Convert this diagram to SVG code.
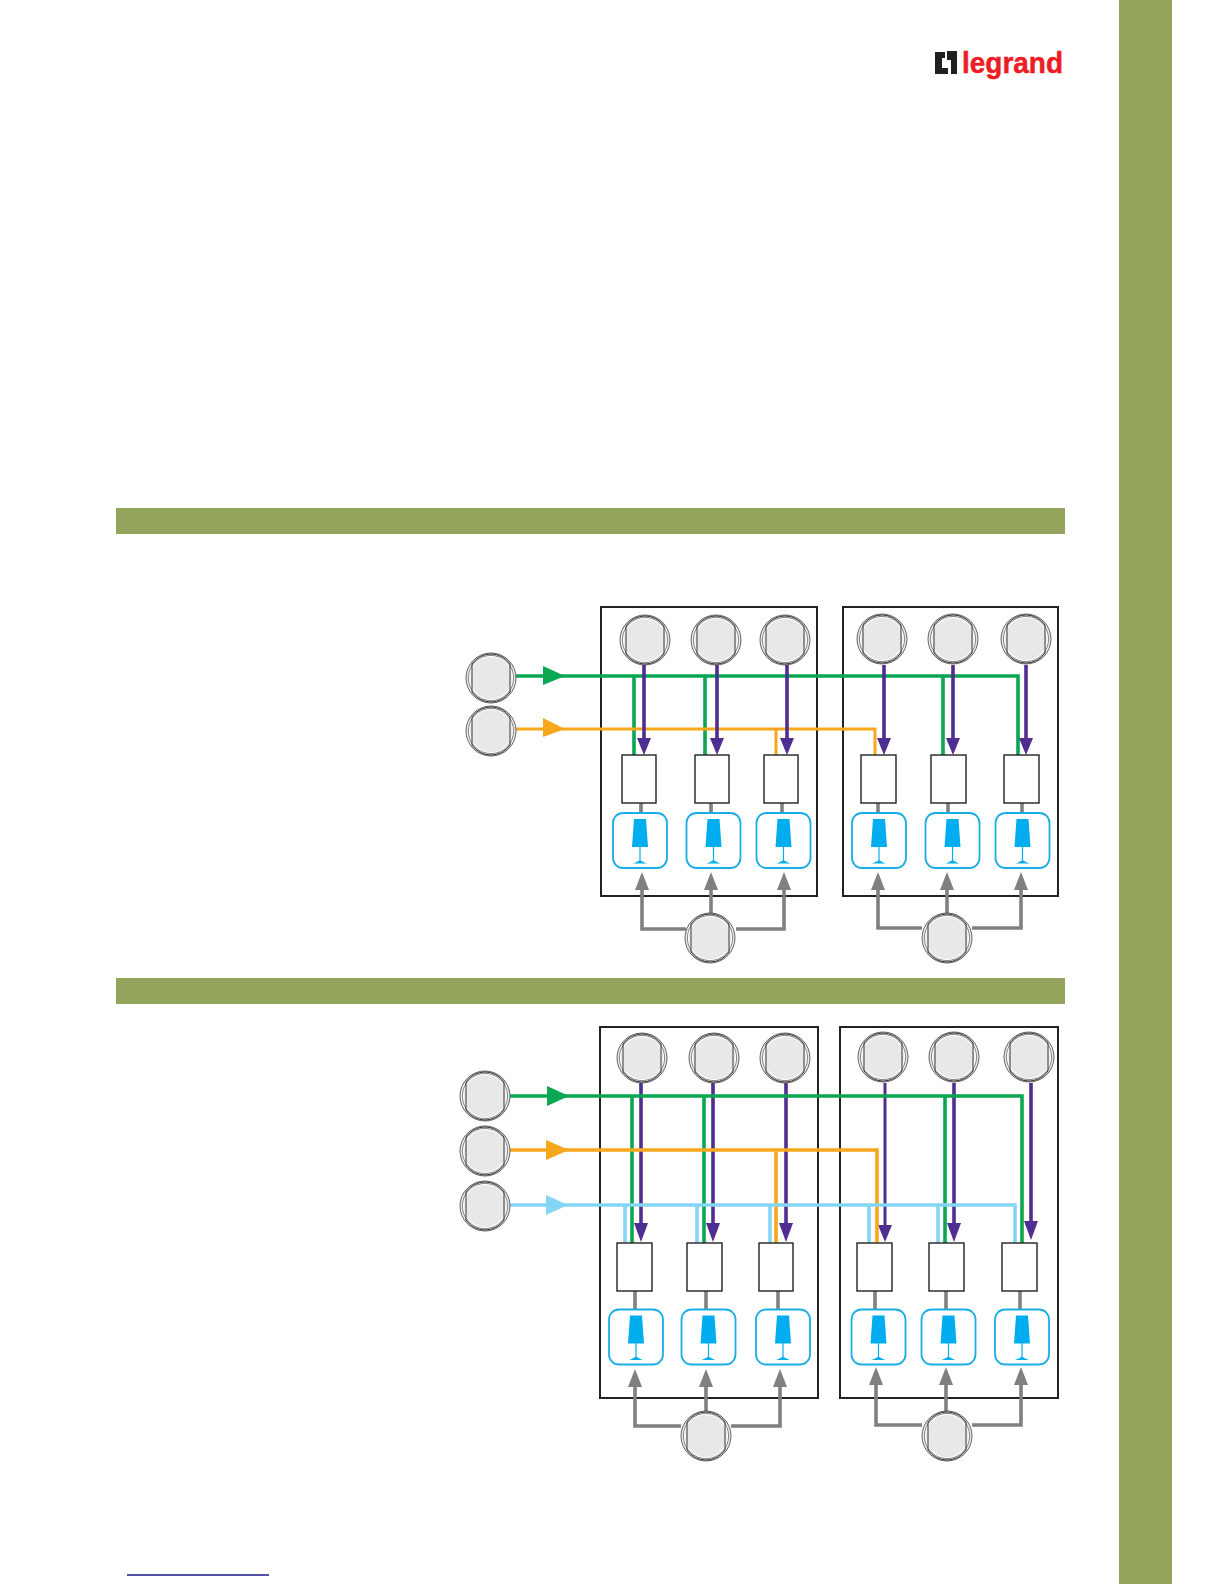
<svg xmlns="http://www.w3.org/2000/svg" xmlns:xlink="http://www.w3.org/1999/xlink" width="1224" height="1584" viewBox="0 0 1224 1584">
<style>
.band{fill:#93a45c}
.panel{fill:none;stroke:#222;stroke-width:2}
.box{fill:#fff;stroke:#222;stroke-width:1.4}
.lampbox{fill:#fff;stroke:#1cade4;stroke-width:1.8}
.g{fill:none;stroke:#0aa651;stroke-width:3.6}
.o{fill:none;stroke:#f7a71b;stroke-width:3.6}
.b{fill:none;stroke:#85d5f5;stroke-width:3.6}
.p{fill:none;stroke:#4f2d91;stroke-width:3.6}
.y{fill:none;stroke:#808080;stroke-width:3.6}
.ah{stroke:none}
</style>
<defs>
<g id="knob">
<circle r="25" fill="#e8e8e8" stroke="#555" stroke-width="0.9"/>
<circle r="22.6" fill="#fff" stroke="#555" stroke-width="0.7"/>
<circle r="21" fill="#e8e8e8" stroke="none"/>
<path d="M-19,-14V14A23,23 0 0 0 19,14V-14A23,23 0 0 0 -19,-14Z" fill="none" stroke="#222" stroke-width="0.9"/>
</g>
<g id="lamp">
<rect x="-27" y="-27.5" width="54" height="55" rx="10" class="lampbox"/>
<path d="M-6,-21.5H6L8,6.5H-8Z" fill="#00aeef"/>
<path d="M-0.6,6V21H0.6V6Z" fill="#00aeef"/>
<path d="M-7,23C-3,22 -2,20 0,20C2,20 3,22 7,23Z" fill="#00aeef"/>
</g>
<marker id="mg" viewBox="0 0 22 20" refX="0" refY="10" markerWidth="22" markerHeight="20" markerUnits="userSpaceOnUse" orient="auto"><path d="M0,0L22,10L0,20Z" fill="#0aa651"/></marker>
<marker id="mo" viewBox="0 0 22 20" refX="0" refY="10" markerWidth="22" markerHeight="20" markerUnits="userSpaceOnUse" orient="auto"><path d="M0,0L22,10L0,20Z" fill="#f7a71b"/></marker>
</defs>

<rect class="band" x="1119" y="0" width="53" height="1584"/>
<rect class="band" x="116" y="508" width="949" height="26"/>
<rect class="band" x="116" y="978" width="949" height="26"/>
<line x1="127" y1="1575" x2="269" y2="1575" stroke="#1a1a8c" stroke-width="1.3"/>

<g id="logo">
<path d="M935,52H945V58H942V68H948V74H935Z M947,51H957V74H951V60H947Z" fill="#231f20"/>
<text x="962" y="73" font-family="'Liberation Sans',Arial,sans-serif" font-weight="700" font-size="30" fill="#ed1c24" stroke="#ed1c24" stroke-width="0.5" textLength="101" lengthAdjust="spacingAndGlyphs">legrand</text>
</g>

<g id="panels">
<rect class="panel" x="601" y="607" width="216" height="289"/>
<rect class="panel" x="843" y="607" width="215" height="289"/>
<rect class="panel" x="600" y="1027" width="218" height="371"/>
<rect class="panel" x="840" y="1027" width="218" height="371"/>
</g>

<g id="connectors">
<!-- section 1 -->
<path class="y" d="M641,803V813M711,803V813M782,803V813M878,803V813M948,803V813M1022,803V813"/>
<path class="y" d="M686,929H642V888M711,913V888M736,929H784V888"/>
<path class="y" d="M922,928H878V888M947,913V888M972,928H1021V888"/>
<g fill="#808080" class="ah">
<path d="M642,872L649,890H635Z"/><path d="M711,872L718,890H704Z"/><path d="M784,872L791,890H777Z"/>
<path d="M878,872L885,890H871Z"/><path d="M947,872L954,890H940Z"/><path d="M1021,872L1028,890H1014Z"/>
</g>
<path class="g" d="M634,755V676M705,755V676M943,755V676M516,676H1018V755" stroke-width="3"/>
<path class="o" d="M516,729H875V755M776,729V755" style="stroke-width:3"/>
<path class="p" d="M644,665V740M717,665V740M787,665V740M884,665V740M953,665V740M1026,665V740"/>
<g fill="#4f2d91" class="ah">
<path d="M644,755L637,738H651Z"/><path d="M717,755L710,738H724Z"/><path d="M787,755L780,738H794Z"/>
<path d="M884,755L877,738H891Z"/><path d="M953,755L946,738H960Z"/><path d="M1026,755L1019,738H1033Z"/>
</g>
<path d="M543,666L565,676L543,685Z" fill="#0aa651"/>
<path d="M543,718L565,729L543,737Z" fill="#f7a71b"/>

<!-- section 2 -->
<path class="y" d="M635,1291V1310M706,1291V1310M778,1291V1310M875,1291V1310M946,1291V1310M1020,1291V1310"/>
<path class="y" d="M681,1426H635V1385M706,1411V1385M731,1426H780V1385"/>
<path class="y" d="M922,1425H876V1383M946,1411V1383M972,1425H1021V1383"/>
<g fill="#808080" class="ah">
<path d="M635,1369L642,1387H628Z"/><path d="M706,1369L713,1387H699Z"/><path d="M780,1369L787,1387H773Z"/>
<path d="M876,1367L883,1385H869Z"/><path d="M946,1367L953,1385H939Z"/><path d="M1021,1367L1028,1385H1014Z"/>
</g>
<path class="p" d="M641,1083V1228M713,1083V1228M786,1083V1228M954,1083V1228M1031,1083V1226"/>
<path class="p" d="M885,1083V1228" style="stroke-width:3"/>
<g fill="#4f2d91" class="ah">
<path d="M641,1242L634,1223H648Z"/><path d="M713,1242L706,1223H720Z"/><path d="M786,1242L779,1223H793Z"/>
<path d="M885,1242L878,1225H892Z"/><path d="M954,1242L947,1223H961Z"/><path d="M1031,1240L1024,1221H1038Z"/>
</g>
<path class="g" d="M632,1243V1096M704,1243V1096M945,1243V1096M510,1096H1022V1243"/>
<path class="o" d="M510,1150H877V1243M776,1150V1243"/>
<path class="b" d="M625,1243V1205M697,1243V1205M770,1243V1205M869,1243V1205M938,1243V1205M510,1205H1015V1243"/>
<path d="M547,1086L569,1096L547,1106Z" fill="#0aa651"/>
<path d="M546,1140L569,1150L546,1160Z" fill="#f7a71b"/>
<path d="M546,1195L568,1205L546,1215Z" fill="#85d5f5"/>
</g>

<g id="actuators-1">
<rect class="box" x="622" y="755" width="34" height="48"/>
<rect class="box" x="695" y="755" width="34" height="48"/>
<rect class="box" x="764" y="755" width="34" height="48"/>
<rect class="box" x="861" y="755" width="35" height="48"/>
<rect class="box" x="931" y="755" width="35" height="48"/>
<rect class="box" x="1004" y="755" width="35" height="48"/>
</g>
<g id="actuators-2">
<rect class="box" x="617" y="1243" width="35" height="48"/>
<rect class="box" x="687" y="1243" width="35" height="48"/>
<rect class="box" x="759" y="1243" width="34" height="48"/>
<rect class="box" x="857" y="1243" width="35" height="48"/>
<rect class="box" x="929" y="1243" width="35" height="48"/>
<rect class="box" x="1002" y="1243" width="35" height="48"/>
</g>
<g id="lamps-1">
<use href="#lamp" x="640" y="840.5"/>
<use href="#lamp" x="713.5" y="840.5"/>
<use href="#lamp" x="783.5" y="840.5"/>
<use href="#lamp" x="879" y="840.5"/>
<use href="#lamp" x="952.5" y="840.5"/>
<use href="#lamp" x="1022.5" y="840.5"/>
</g>
<g id="lamps-2">
<use href="#lamp" x="636" y="1337"/>
<use href="#lamp" x="708.5" y="1337"/>
<use href="#lamp" x="783" y="1337"/>
<use href="#lamp" x="878.5" y="1337"/>
<use href="#lamp" x="948.5" y="1337"/>
<use href="#lamp" x="1022" y="1337"/>
</g>
<g id="knobs-1">
<use href="#knob" x="645" y="640"/>
<use href="#knob" x="716" y="640"/>
<use href="#knob" x="785" y="640"/>
<use href="#knob" x="882" y="639"/>
<use href="#knob" x="953" y="639"/>
<use href="#knob" x="1026" y="639"/>
<use href="#knob" x="491" y="678"/>
<use href="#knob" x="491" y="731"/>
<use href="#knob" x="710" y="938"/>
<use href="#knob" x="947" y="938"/>
</g>
<g id="knobs-2">
<use href="#knob" x="642" y="1058"/>
<use href="#knob" x="714" y="1058"/>
<use href="#knob" x="785" y="1058"/>
<use href="#knob" x="883" y="1057"/>
<use href="#knob" x="954" y="1057"/>
<use href="#knob" x="1029" y="1057"/>
<use href="#knob" x="485" y="1096"/>
<use href="#knob" x="485" y="1151"/>
<use href="#knob" x="485" y="1206"/>
<use href="#knob" x="706" y="1436"/>
<use href="#knob" x="947" y="1436"/>
</g>
</svg>
